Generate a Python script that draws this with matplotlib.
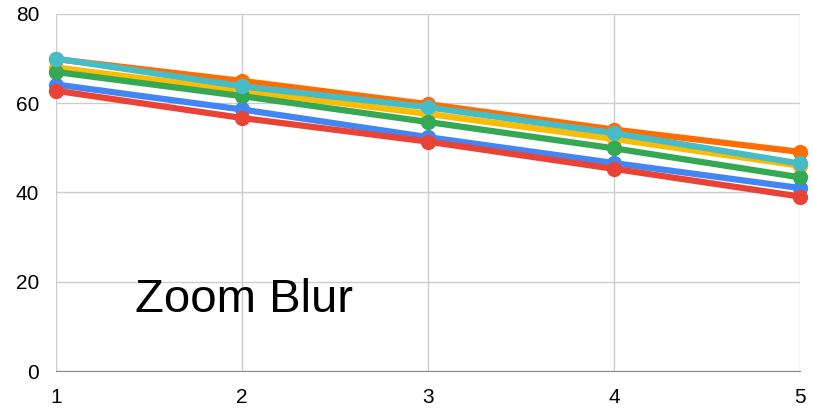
import matplotlib
matplotlib.use('Agg')
import matplotlib.pyplot as plt

plt.rcParams['font.family'] = ['Liberation Sans', 'DejaVu Sans']

x = [1, 2, 3, 4, 5]
blue = [64.2, 58.6, 52.4, 46.6, 41.0]
red = [62.8, 56.7, 51.4, 45.3, 39.1]
yellow = [68.0, 62.8, 57.6, 52.0, 46.0]
green = [67.0, 61.6, 55.8, 49.9, 43.4]
orange = [69.9, 65.0, 59.8, 54.1, 49.1]
cyan = [70.0, 63.8, 59.1, 53.3, 46.5]

series = [blue, red, yellow, green, orange, cyan]
colors = ['#4285F4', '#EA4335', '#FBBC04', '#34A853', '#FF6D01', '#46BDC6']

fig = plt.figure(figsize=(8.13, 4.15), dpi=100)
ax = fig.add_axes([56 / 813, 44 / 415, 744 / 813, 357 / 415])

for ys, c in zip(series, colors):
    ax.plot(x, ys, color=c, linewidth=4.5, marker='o', markersize=10,
            solid_capstyle='round', clip_on=False)

ax.set_xlim(1, 5)
ax.set_ylim(0, 80)
ax.set_xticks(x)
ax.set_yticks([0, 20, 40, 60, 80])
ax.grid(True, color='#cccccc', linewidth=1)
ax.set_axisbelow(True)
for s in ['top', 'right', 'left']:
    ax.spines[s].set_visible(False)
ax.spines['bottom'].set_color('#888888')
ax.tick_params(axis='y', length=0, labelsize=15, pad=12)
ax.tick_params(axis='x', length=0, labelsize=15, pad=12)

fig.text(135 / 813, (415 - 312) / 415, 'Zoom Blur', fontsize=34, va='baseline')

fig.savefig('out.png', dpi=100)
